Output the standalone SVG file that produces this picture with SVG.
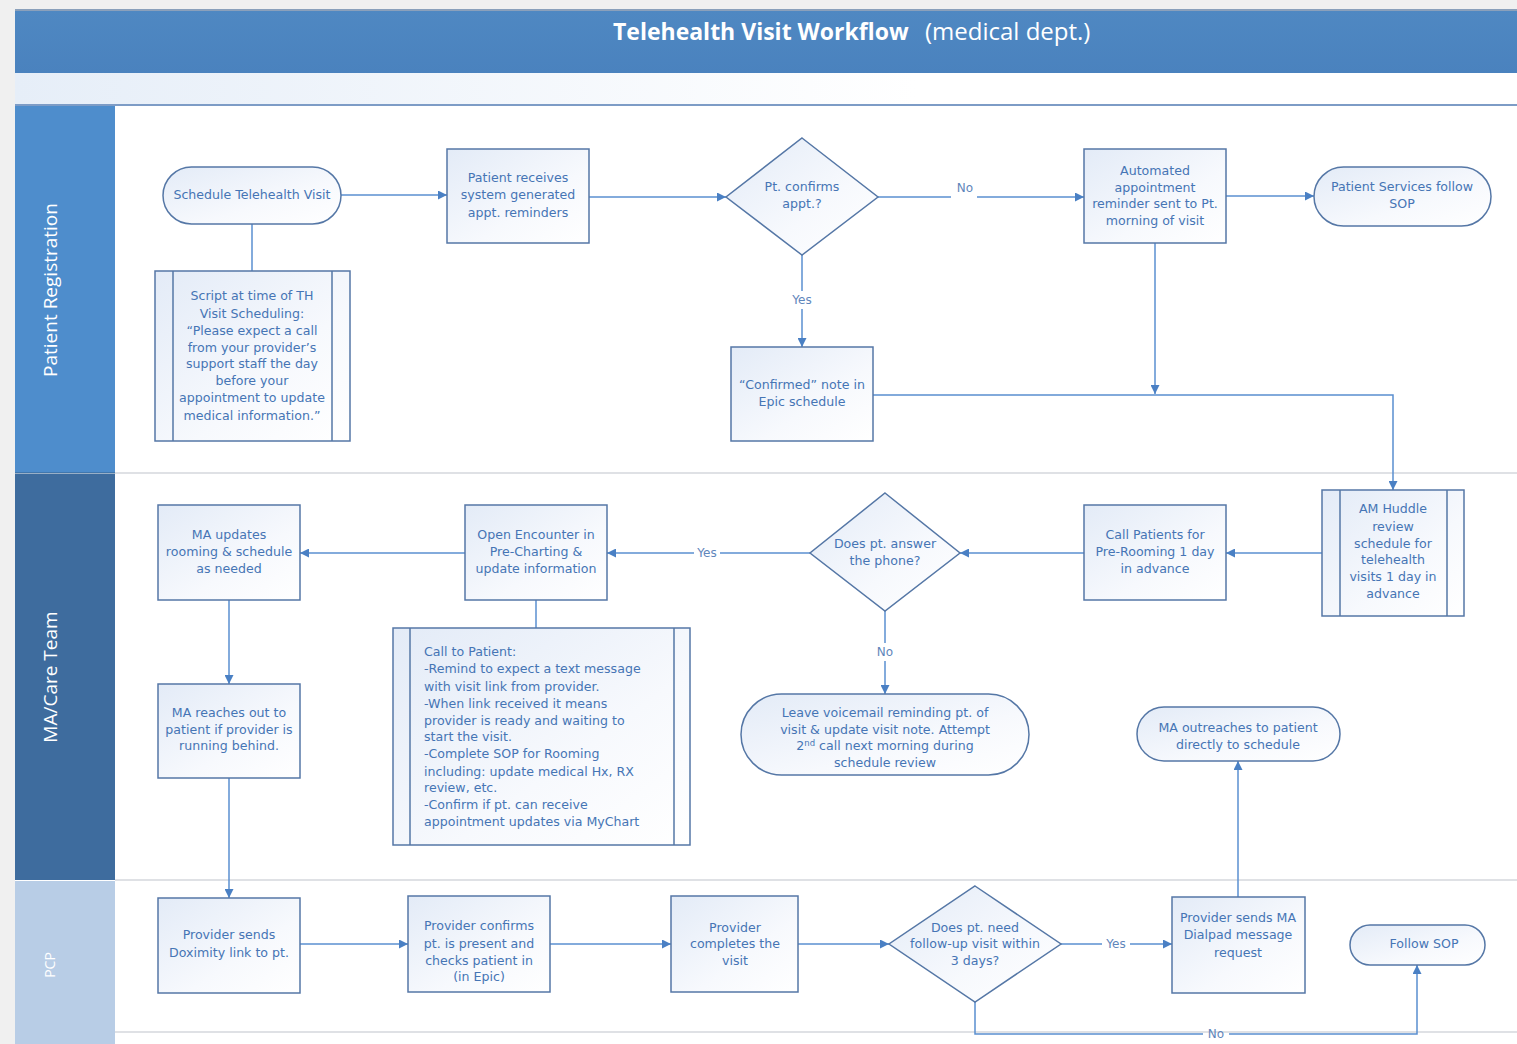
<svg xmlns="http://www.w3.org/2000/svg" width="1517" height="1044" viewBox="0 0 1517 1044">
<defs>
<linearGradient id="nodeFill" x1="0" y1="0" x2="1" y2="1">
<stop offset="0" stop-color="#e3ebf7"/>
<stop offset="0.6" stop-color="#f7f9fd"/>
<stop offset="1" stop-color="#ffffff"/>
</linearGradient>
<linearGradient id="band" x1="0" y1="0" x2="1" y2="0">
<stop offset="0" stop-color="#e6eef8"/>
<stop offset="0.6" stop-color="#ffffff"/>
</linearGradient>
<linearGradient id="titleBar" x1="0" y1="0" x2="0" y2="1">
<stop offset="0" stop-color="#4f88c2"/>
<stop offset="1" stop-color="#4a82be"/>
</linearGradient>
<marker id="arr" viewBox="0 0 10 10" refX="10" refY="5" markerWidth="10" markerHeight="9" markerUnits="userSpaceOnUse" orient="auto">
<path d="M0,0 L10,5 L0,10 z" fill="#4a80c4"/>
</marker>
</defs>
<style>
.node{fill:url(#nodeFill);stroke:#5577a6;stroke-width:1.5}
.inner{stroke:#5577a6;stroke-width:1.5;fill:none}
.t{font-family:"DejaVu Sans","Liberation Sans",sans-serif;font-size:12.6px;fill:#4675b5;text-anchor:middle}
.tl{font-family:"DejaVu Sans","Liberation Sans",sans-serif;font-size:12.6px;fill:#4675b5;text-anchor:start}
.c{fill:none;stroke:#5a8fd0;stroke-width:1.5}
.ca{fill:none;stroke:#5a8fd0;stroke-width:1.5;marker-end:url(#arr)}
.lbl{font-family:"DejaVu Sans","Liberation Sans",sans-serif;font-size:12px;fill:#5f86bb;text-anchor:middle}
.lane{font-family:"Open Sans","Liberation Sans",sans-serif;font-size:19px;fill:#ffffff;text-anchor:middle}
.sep{stroke:#d4d7dc;stroke-width:1.5}
.title{font-family:"Open Sans","Liberation Sans",sans-serif;fill:#ffffff}
</style>

<!-- background -->
<rect x="0" y="0" width="1517" height="1044" fill="#ffffff"/>
<rect x="0" y="0" width="1517" height="10" fill="#f0f0f0"/>
<rect x="0" y="0" width="15" height="1044" fill="#f0f0f0"/>
<rect x="15" y="10" width="1502" height="63" fill="url(#titleBar)"/>
<line x1="15" y1="10" x2="1517" y2="10" stroke="#8aa0bb" stroke-width="2"/>
<rect x="15" y="73" width="1502" height="32" fill="url(#band)"/>
<line x1="15" y1="105" x2="1517" y2="105" stroke="#7d9cc6" stroke-width="2"/>
<text class="title" x="613" y="40" font-size="23" font-weight="bold">Telehealth Visit Workflow</text>
<text class="title" x="925" y="40" font-size="24">(medical dept.)</text>

<!-- lanes -->
<g id="lane-patient-registration">
<rect x="15" y="106" width="100" height="367" fill="#4e8dcc"/>
<text class="lane" transform="translate(57,290) rotate(-90)">Patient Registration</text>
</g>
<g id="lane-ma-care-team">
<rect x="15" y="474" width="100" height="406" fill="#3e6c9e"/>
<text class="lane" transform="translate(57,677) rotate(-90)">MA/Care Team</text>
</g>
<g id="lane-pcp">
<rect x="15" y="881" width="100" height="163" fill="#b8cde6"/>
<text class="lane" transform="translate(55,965) rotate(-90)" style="font-size:14px">PCP</text>
</g>
<line class="sep" x1="115" y1="473" x2="1517" y2="473"/>
<line class="sep" x1="115" y1="880" x2="1517" y2="880"/>
<line class="sep" x1="115" y1="1032" x2="1517" y2="1032"/>
<line x1="15" y1="473" x2="115" y2="473" stroke="#35608e" stroke-width="1"/>

<!-- connectors -->
<g id="connectors">
<line class="ca" x1="341" y1="195" x2="447" y2="195"/>
<line class="c" x1="252" y1="224" x2="252" y2="271"/>
<line class="ca" x1="589" y1="197" x2="726" y2="197"/>
<line class="c" x1="878" y1="197" x2="951" y2="197"/>
<line class="ca" x1="977" y1="197" x2="1084" y2="197"/>
<text class="lbl" x="965" y="192">No</text>
<line class="c" x1="802" y1="255" x2="802" y2="291"/>
<line class="ca" x1="802" y1="309" x2="802" y2="347"/>
<text class="lbl" x="802" y="304">Yes</text>
<line class="ca" x1="1226" y1="196" x2="1314" y2="196"/>
<line class="ca" x1="1155" y1="243" x2="1155" y2="394"/>
<polyline class="ca" points="873,395 1393,395 1393,490"/>
<line class="ca" x1="1322" y1="553" x2="1226" y2="553"/>
<line class="ca" x1="1084" y1="553" x2="960" y2="553"/>
<line class="c" x1="810" y1="553" x2="720" y2="553"/>
<line class="ca" x1="694" y1="553" x2="607" y2="553"/>
<text class="lbl" x="707" y="557">Yes</text>
<line class="ca" x1="465" y1="553" x2="300" y2="553"/>
<line class="c" x1="536" y1="600" x2="536" y2="628"/>
<line class="c" x1="885" y1="611" x2="885" y2="643"/>
<line class="ca" x1="885" y1="661" x2="885" y2="694"/>
<text class="lbl" x="885" y="656">No</text>
<line class="ca" x1="229" y1="600" x2="229" y2="684"/>
<line class="ca" x1="229" y1="778" x2="229" y2="898"/>
<line class="ca" x1="300" y1="944" x2="408" y2="944"/>
<line class="ca" x1="550" y1="944" x2="671" y2="944"/>
<line class="ca" x1="798" y1="944" x2="889" y2="944"/>
<line class="c" x1="1061" y1="944" x2="1102" y2="944"/>
<line class="ca" x1="1130" y1="944" x2="1172" y2="944"/>
<text class="lbl" x="1116" y="948">Yes</text>
<line class="ca" x1="1238" y1="897" x2="1238" y2="761"/>
<polyline class="c" points="975,1002 975,1034 1203,1034"/>
<polyline class="ca" points="1229,1034 1417,1034 1417,965"/>
<text class="lbl" x="1216" y="1038">No</text>
</g>

<!-- nodes -->
<g id="n-schedule">
<rect class="node" x="163" y="167" width="178" height="57" rx="28.5"/>
<text class="t" x="252" y="199">Schedule Telehealth Visit</text>
</g>
<g id="n-script">
<rect class="node" x="155" y="271" width="195" height="170"/>
<line class="inner" x1="173" y1="271" x2="173" y2="441"/>
<line class="inner" x1="332" y1="271" x2="332" y2="441"/>
<text class="t" x="252" y="300">Script at time of TH</text>
<text class="t" x="252" y="318">Visit Scheduling:</text>
<text class="t" x="252" y="335">“Please expect a call</text>
<text class="t" x="252" y="352">from your provider’s</text>
<text class="t" x="252" y="368">support staff the day</text>
<text class="t" x="252" y="385">before your</text>
<text class="t" x="252" y="402">appointment to update</text>
<text class="t" x="252" y="420">medical information.”</text>
</g>
<g id="n-reminders">
<rect class="node" x="447" y="149" width="142" height="94"/>
<text class="t" x="518" y="182">Patient receives</text>
<text class="t" x="518" y="199">system generated</text>
<text class="t" x="518" y="217">appt. reminders</text>
</g>
<g id="n-confirms">
<polygon class="node" points="802,138 878,197 802,255 726,197"/>
<text class="t" x="802" y="191">Pt. confirms</text>
<text class="t" x="802" y="208">appt.?</text>
</g>
<g id="n-automated">
<rect class="node" x="1084" y="149" width="142" height="94"/>
<text class="t" x="1155" y="175">Automated</text>
<text class="t" x="1155" y="192">appointment</text>
<text class="t" x="1155" y="208">reminder sent to Pt.</text>
<text class="t" x="1155" y="225">morning of visit</text>
</g>
<g id="n-patient-services">
<rect class="node" x="1314" y="167" width="177" height="59" rx="29.5"/>
<text class="t" x="1402" y="191">Patient Services follow</text>
<text class="t" x="1402" y="208">SOP</text>
</g>
<g id="n-confirmed-note">
<rect class="node" x="731" y="347" width="142" height="94"/>
<text class="t" x="802" y="389">“Confirmed” note in</text>
<text class="t" x="802" y="406">Epic schedule</text>
</g>
<g id="n-am-huddle">
<rect class="node" x="1322" y="490" width="142" height="126"/>
<line class="inner" x1="1340" y1="490" x2="1340" y2="616"/>
<line class="inner" x1="1447" y1="490" x2="1447" y2="616"/>
<text class="t" x="1393" y="513">AM Huddle</text>
<text class="t" x="1393" y="531">review</text>
<text class="t" x="1393" y="548">schedule for</text>
<text class="t" x="1393" y="564">telehealth</text>
<text class="t" x="1393" y="581">visits 1 day in</text>
<text class="t" x="1393" y="598">advance</text>
</g>
<g id="n-call-patients">
<rect class="node" x="1084" y="505" width="142" height="95"/>
<text class="t" x="1155" y="539">Call Patients for</text>
<text class="t" x="1155" y="556">Pre-Rooming 1 day</text>
<text class="t" x="1155" y="573">in advance</text>
</g>
<g id="n-answer">
<polygon class="node" points="885,493 960,553 885,611 810,553"/>
<text class="t" x="885" y="548">Does pt. answer</text>
<text class="t" x="885" y="565">the phone?</text>
</g>
<g id="n-open-encounter">
<rect class="node" x="465" y="505" width="142" height="95"/>
<text class="t" x="536" y="539">Open Encounter in</text>
<text class="t" x="536" y="556">Pre-Charting &amp;</text>
<text class="t" x="536" y="573">update information</text>
</g>
<g id="n-ma-updates">
<rect class="node" x="158" y="505" width="142" height="95"/>
<text class="t" x="229" y="539">MA updates</text>
<text class="t" x="229" y="556">rooming &amp; schedule</text>
<text class="t" x="229" y="573">as needed</text>
</g>
<g id="n-call-to-patient">
<rect class="node" x="393" y="628" width="297" height="217"/>
<line class="inner" x1="410" y1="628" x2="410" y2="845"/>
<line class="inner" x1="674" y1="628" x2="674" y2="845"/>
<text class="tl" x="424" y="656">Call to Patient:</text>
<text class="tl" x="424" y="673">-Remind to expect a text message</text>
<text class="tl" x="424" y="691">with visit link from provider.</text>
<text class="tl" x="424" y="708">-When link received it means</text>
<text class="tl" x="424" y="725">provider is ready and waiting to</text>
<text class="tl" x="424" y="741">start the visit.</text>
<text class="tl" x="424" y="758">-Complete SOP for Rooming</text>
<text class="tl" x="424" y="776">including: update medical Hx, RX</text>
<text class="tl" x="424" y="792">review, etc.</text>
<text class="tl" x="424" y="809">-Confirm if pt. can receive</text>
<text class="tl" x="424" y="826">appointment updates via MyChart</text>
</g>
<g id="n-voicemail">
<rect class="node" x="741" y="694" width="288" height="81" rx="40.5"/>
<text class="t" x="885" y="717">Leave voicemail reminding pt. of</text>
<text class="t" x="885" y="734">visit &amp; update visit note. Attempt</text>
<text class="t" x="885" y="750">2<tspan font-size="8.5" dy="-4">nd</tspan><tspan dy="4"> call next morning during</tspan></text>
<text class="t" x="885" y="767">schedule review</text>
</g>
<g id="n-ma-outreaches">
<rect class="node" x="1137" y="707" width="203" height="54" rx="27"/>
<text class="t" x="1238" y="732">MA outreaches to patient</text>
<text class="t" x="1238" y="749">directly to schedule</text>
</g>
<g id="n-ma-reaches">
<rect class="node" x="158" y="684" width="142" height="94"/>
<text class="t" x="229" y="717">MA reaches out to</text>
<text class="t" x="229" y="734">patient if provider is</text>
<text class="t" x="229" y="750">running behind.</text>
</g>
<g id="n-doximity">
<rect class="node" x="158" y="898" width="142" height="95"/>
<text class="t" x="229" y="939">Provider sends</text>
<text class="t" x="229" y="957">Doximity link to pt.</text>
</g>
<g id="n-provider-confirms">
<rect class="node" x="408" y="896" width="142" height="96"/>
<text class="t" x="479" y="930">Provider confirms</text>
<text class="t" x="479" y="948">pt. is present and</text>
<text class="t" x="479" y="965">checks patient in</text>
<text class="t" x="479" y="981">(in Epic)</text>
</g>
<g id="n-provider-completes">
<rect class="node" x="671" y="896" width="127" height="96"/>
<text class="t" x="735" y="932">Provider</text>
<text class="t" x="735" y="948">completes the</text>
<text class="t" x="735" y="965">visit</text>
</g>
<g id="n-follow-up">
<polygon class="node" points="975,886 1061,944 975,1002 889,944"/>
<text class="t" x="975" y="932">Does pt. need</text>
<text class="t" x="975" y="948">follow-up visit within</text>
<text class="t" x="975" y="965">3 days?</text>
</g>
<g id="n-dialpad">
<rect class="node" x="1172" y="897" width="133" height="96"/>
<text class="t" x="1238" y="922">Provider sends MA</text>
<text class="t" x="1238" y="939">Dialpad message</text>
<text class="t" x="1238" y="957">request</text>
</g>
<g id="n-follow-sop">
<rect class="node" x="1350" y="925" width="135" height="40" rx="20"/>
<text class="t" x="1424" y="948">Follow SOP</text>
</g>
</svg>
